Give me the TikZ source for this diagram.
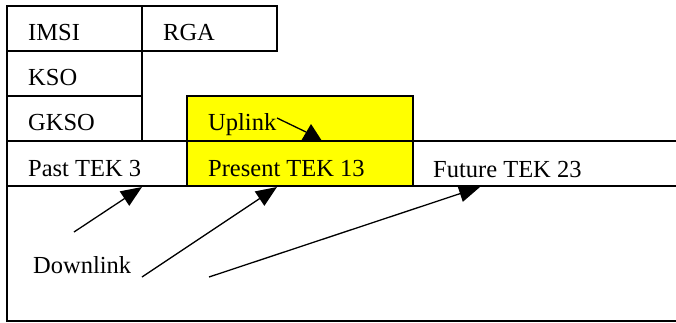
\documentclass[tikz,border=0pt]{standalone}
\usepackage{fontspec}
\setmainfont{Liberation Serif}
\usetikzlibrary{arrows.meta}
\definecolor{hiyellow}{RGB}{255,255,0}
\tikzset{
  cell/.style={draw=black, line width=1.4pt},
  lbl/.style={inner sep=0pt, anchor=base west, font=\fontsize{24.5}{29}\selectfont},
  dlink/.style={line width=1.3pt, -{Triangle[length=21pt,width=17pt]}},
}
\begin{document}
\begin{tikzpicture}[x=1pt,y=-1pt]
\useasboundingbox (0,0) rectangle (676,322);
\clip (0,0) rectangle (676,322);
% highlighted cell
\draw[cell, fill=hiyellow] (187,96) rectangle (413,186);
% cells
\draw[cell] (7,6) rectangle (142,51);
\draw[cell] (142,6) rectangle (277,51);
\draw[cell] (7,51) rectangle (142,96);
\draw[cell] (7,96) rectangle (142,141);
\draw[cell] (7,141) rectangle (690,186);
\draw[cell] (7,186) rectangle (690,321);
% labels
\node[lbl] (imsi) at (28,40) {IMSI};
\node[lbl] (rga) at (163,40) {RGA};
\node[lbl] (kso) at (28,85) {KSO};
\node[lbl] (gkso) at (28,130) {GKSO};
\node[lbl] (uplink) at (208,130) {Uplink};
\node[lbl] (past) at (28,176) {Past TEK 3};
\node[lbl] (present) at (208,176) {Present TEK 13};
\node[lbl] (future) at (433,177) {Future TEK 23};
\node[lbl] (downlink) at (33,273) {Downlink};
% arrow coordinates
\coordinate (d1s) at (74,232);
\coordinate (d1e) at (142,187);
\coordinate (d2s) at (142,277);
\coordinate (d2e) at (277,187);
\coordinate (d3s) at (209,277);
\coordinate (d3e) at (480,187);
\coordinate (us) at (277,118);
\coordinate (ue) at (306,132);
% downlink arrows
\draw[dlink] (d1s) -- (d1e);
\draw[dlink] (d2s) -- (d2e);
\draw[dlink] (d3s) -- (d3e);
% uplink arrow
\draw[line width=1.3pt] (us) -- (ue);
\fill[black] (311,124) -- (301,141) -- (322,141) -- cycle;
\end{tikzpicture}
\end{document}
